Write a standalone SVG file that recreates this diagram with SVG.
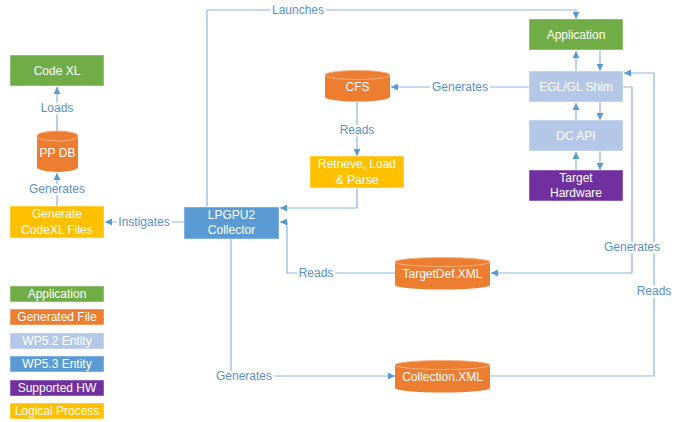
<svg xmlns="http://www.w3.org/2000/svg" width="682" height="422" viewBox="0 0 682 422">
<style>
.t{font-family:"Liberation Sans",Arial,sans-serif;font-size:12px;fill:#fff;text-anchor:middle}
.l{font-family:"Liberation Sans",Arial,sans-serif;font-size:12px;fill:#5B8FCC;text-anchor:middle;paint-order:stroke;stroke:#fff;stroke-width:5px;stroke-linejoin:round}
.c{fill:none;stroke:#8DB4E2;stroke-width:1.2}
.b{stroke:#fff;stroke-opacity:0.45;stroke-width:1}
.g{fill:#70AD47}.o{fill:#ED7D31}.lb{fill:#B4C7E7}.bl{fill:#5B9BD5}.p{fill:#7030A0}.y{fill:#FFC000}
.cyl{fill:#ED7D31}
.top{fill:none;stroke:#F4B183;stroke-width:1}
</style>
<defs>
<marker id="a" markerWidth="7" markerHeight="7" refX="7" refY="3.5" orient="auto" markerUnits="userSpaceOnUse"><path d="M0,0 L7,3.5 L0,7 z" fill="#5B9BD5"/></marker>
</defs>
<g id="connectors">
<path class="c" d="M57,131 V87" marker-end="url(#a)"/>
<path class="c" d="M57,206 V173" marker-end="url(#a)"/>
<path class="c" d="M184,222 H105" marker-end="url(#a)"/>
<path class="c" d="M207,206 V10 H576 V19" marker-end="url(#a)"/>
<path class="c" d="M576,71 V51" marker-end="url(#a)"/>
<path class="c" d="M600,50 V71" marker-end="url(#a)"/>
<path class="c" d="M576,120 V103" marker-end="url(#a)"/>
<path class="c" d="M600,102 V120" marker-end="url(#a)"/>
<path class="c" d="M576,170 V152" marker-end="url(#a)"/>
<path class="c" d="M600,151 V170" marker-end="url(#a)"/>
<path class="c" d="M529,87 H391" marker-end="url(#a)"/>
<path class="c" d="M357,102 V156" marker-end="url(#a)"/>
<path class="c" d="M357,188 V208 H280" marker-end="url(#a)"/>
<path class="c" d="M395,273 H287 V222 H280" marker-end="url(#a)"/>
<path class="c" d="M623,87 H632 V273 H491" marker-end="url(#a)"/>
<path class="c" d="M490,376 H654 V73 H624" marker-end="url(#a)"/>
<path class="c" d="M231,239 V376 H395" marker-end="url(#a)"/>
<text class="l" x="57" y="108" dy="0.35em">Loads</text>
<text class="l" x="57" y="189" dy="0.35em">Generates</text>
<text class="l" x="144" y="222" dy="0.35em">Instigates</text>
<text class="l" x="298" y="10" dy="0.35em">Launches</text>
<text class="l" x="460" y="87" dy="0.35em">Generates</text>
<text class="l" x="357" y="130" dy="0.35em">Reads</text>
<text class="l" x="316" y="273" dy="0.35em">Reads</text>
<text class="l" x="632" y="247" dy="0.35em">Generates</text>
<text class="l" x="654" y="291" dy="0.35em">Reads</text>
<text class="l" x="244" y="376" dy="0.35em">Generates</text>
</g>
<g id="codexl"><rect class="g b" x="10" y="55" width="94" height="31"/><text class="t" x="57" y="70.5" dy="0.35em">Code XL</text></g>
<g id="ppdb"><path class="cyl" d="M37,136 A20.5,5 0 0 1 78,136 V167 A20.5,5 0 0 1 37,167 Z"/><ellipse class="top" cx="57.5" cy="136" rx="20.5" ry="5"/><text class="t" x="57.5" y="153" dy="0.35em">PP DB</text></g>
<g id="gencodexl"><rect class="y b" x="10" y="206" width="94" height="32"/><text class="t" x="57" y="214" dy="0.35em">Generate</text><text class="t" x="57" y="230" dy="0.35em">CodeXL Files</text></g>
<g id="lpgpu2"><rect class="bl b" x="184" y="207" width="95" height="32"/><text class="t" x="231.5" y="215" dy="0.35em">LPGPU2</text><text class="t" x="231.5" y="230" dy="0.35em">Collector</text></g>
<g id="application"><rect class="g b" x="529" y="19" width="94" height="31"/><text class="t" x="576" y="35" dy="0.35em">Application</text></g>
<g id="shim"><rect class="lb b" x="529" y="71" width="94" height="31"/><text class="t" x="576" y="87" dy="0.35em">EGL/GL Shim</text></g>
<g id="dcapi"><rect class="lb b" x="529" y="120" width="94" height="31"/><text class="t" x="576" y="136" dy="0.35em">DC API</text></g>
<g id="hardware"><rect class="p b" x="529" y="170" width="94" height="31"/><text class="t" x="576" y="177.5" dy="0.35em">Target</text><text class="t" x="576" y="193" dy="0.35em">Hardware</text></g>
<g id="cfs"><path class="cyl" d="M325,75 A32.5,4.5 0 0 1 390,75 V97 A32.5,4.5 0 0 1 325,97 Z"/><ellipse class="top" cx="357.5" cy="75" rx="32.5" ry="4.5"/><text class="t" x="357.5" y="87" dy="0.35em">CFS</text></g>
<g id="retrieve"><rect class="y b" x="310" y="156" width="94" height="32"/><text class="t" x="357" y="164" dy="0.35em">Retrieve, Load</text><text class="t" x="357" y="180" dy="0.35em">&amp; Parse</text></g>
<g id="targetdef"><path class="cyl" d="M395,262 A47.5,4.5 0 0 1 490,262 V285 A47.5,4.5 0 0 1 395,285 Z"/><ellipse class="top" cx="442.5" cy="262" rx="47.5" ry="4.5"/><text class="t" x="442.5" y="274" dy="0.35em">TargetDef.XML</text></g>
<g id="collection"><path class="cyl" d="M395,365 A47.5,4.5 0 0 1 490,365 V388 A47.5,4.5 0 0 1 395,388 Z"/><ellipse class="top" cx="442.5" cy="365" rx="47.5" ry="4.5"/><text class="t" x="442.5" y="377" dy="0.35em">Collection.XML</text></g>
<g id="legend">
<rect class="g b" x="10" y="286" width="94" height="16"/><text class="t" x="57" y="294" dy="0.35em">Application</text>
<rect class="o b" x="10" y="309" width="94" height="16"/><text class="t" x="57" y="317" dy="0.35em">Generated File</text>
<rect class="lb b" x="10" y="333" width="94" height="16"/><text class="t" x="57" y="341" dy="0.35em">WP5.2 Entity</text>
<rect class="bl b" x="10" y="356" width="94" height="16"/><text class="t" x="57" y="364" dy="0.35em">WP5.3 Entity</text>
<rect class="p b" x="10" y="380" width="94" height="16"/><text class="t" x="57" y="388" dy="0.35em">Supported HW</text>
<rect class="y b" x="10" y="403" width="94" height="16"/><text class="t" x="57" y="411" dy="0.35em">Logical Process</text>
</g>
</svg>
